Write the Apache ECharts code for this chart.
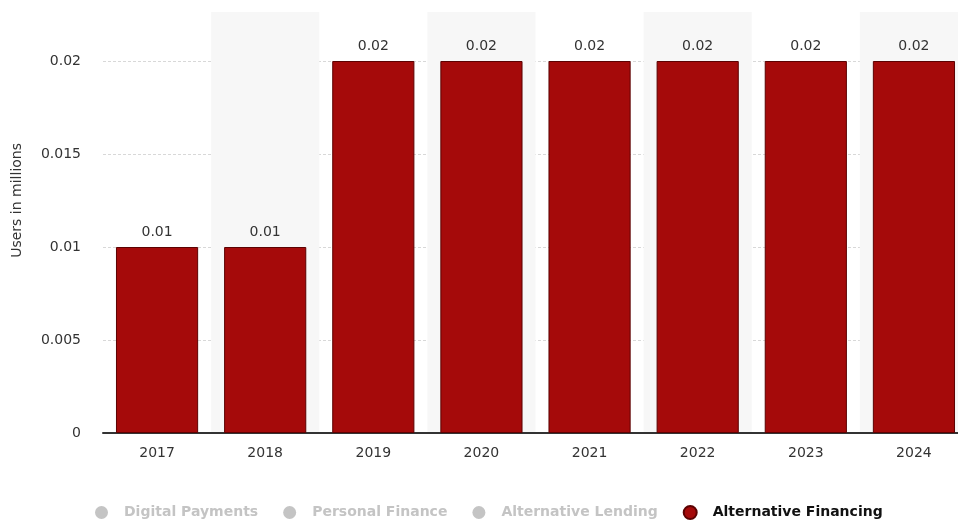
<!DOCTYPE html>
<html>
<head>
<meta charset="utf-8">
<style>
  html, body { margin: 0; padding: 0; background: #fff; }
  #chart { width: 958px; height: 523px; }
</style>
<script src="https://cdn.jsdelivr.net/npm/echarts@6/dist/echarts.min.js"></script>
</head>
<body>
<div id="chart"></div>
<script>
// Users of alternative financing, in millions, by year
const years = ['2017', '2018', '2019', '2020', '2021', '2022', '2023', '2024'];
const altFinancing = [0.01, 0.01, 0.02, 0.02, 0.02, 0.02, 0.02, 0.02];
const segments = ['Digital Payments', 'Personal Finance', 'Alternative Lending', 'Alternative Financing'];
const yTicks = [0, 0.005, 0.01, 0.015, 0.02];

const RED = '#a50a0a';
const font = 'DejaVu Sans';

const chart = echarts.init(document.getElementById('chart'), null, { renderer: 'canvas' });

// Segments without data only appear (switched off) in the legend
const placeholderSeries = segments.slice(0, 3).map(name => ({
  name, type: 'bar', xAxisIndex: 0, yAxisIndex: 0, data: [],
  itemStyle: { color: '#ccc' }
}));

const selected = {};
segments.forEach((s, i) => { selected[s] = i === 3; });

chart.setOption({
  animation: false,
  textStyle: { fontFamily: font },
  grid: [
    { left: 103, width: 865, top: 61, bottom: 90, outerBoundsMode: 'none', containLabel: false },
    // taller grid used only for the alternating column shading
    { left: 103, width: 865, top: 12, bottom: 90, outerBoundsMode: 'none', containLabel: false }
  ],
  xAxis: [
    {
      type: 'category', data: years, gridIndex: 0,
      axisLine: { lineStyle: { color: '#333', width: 2 } },
      axisTick: { show: false },
      axisLabel: { color: '#333', fontSize: 14, margin: 13, fontFamily: font }
    },
    {
      type: 'category', data: years, gridIndex: 1,
      axisLine: { show: false }, axisTick: { show: false }, axisLabel: { show: false },
      splitArea: { show: true, areaStyle: { color: ['rgba(255,255,255,0)', '#f7f7f7'] } }
    }
  ],
  yAxis: [
    {
      type: 'value', gridIndex: 0, min: yTicks[0], max: yTicks[yTicks.length - 1], interval: 0.005,
      axisLine: { show: false }, axisTick: { show: false },
      axisLabel: { color: '#333', fontSize: 14, margin: 22, fontFamily: font,
        formatter: v => String(yTicks.find(t => Math.abs(t - v) < 1e-9) ?? v) },
      splitLine: { lineStyle: { color: '#d8d8d8', type: [3, 2], width: 1 } }
    },
    {
      type: 'value', gridIndex: 1, min: 0, max: 1, show: false, splitLine: { show: false }
    }
  ],
  legend: {
    top: 500, left: 90, icon: 'circle', itemWidth: 13, itemHeight: 13, itemGap: 25,
    data: segments, selected,
    inactiveColor: '#c4c4c4',
    textStyle: { fontSize: 14, fontWeight: 'bold', color: '#111', fontFamily: font, padding: [0, 0, 0, 11] }
  },
  graphic: [{
    type: 'text', left: 10, top: 143, rotation: Math.PI / 2,
    style: { text: 'Users in millions', fill: '#333', font: '14px "DejaVu Sans"' }
  }],
  series: [
    ...placeholderSeries,
    {
      name: 'Alternative Financing', type: 'bar', xAxisIndex: 0, yAxisIndex: 0,
      data: altFinancing, barCategoryGap: '24%', z: 5,
      itemStyle: { color: RED, borderColor: '#5c0202', borderWidth: 1 },
      label: { show: true, position: 'top', distance: 8, color: '#333', fontSize: 14, fontFamily: font }
    }
  ]
});
</script>
</body>
</html>
